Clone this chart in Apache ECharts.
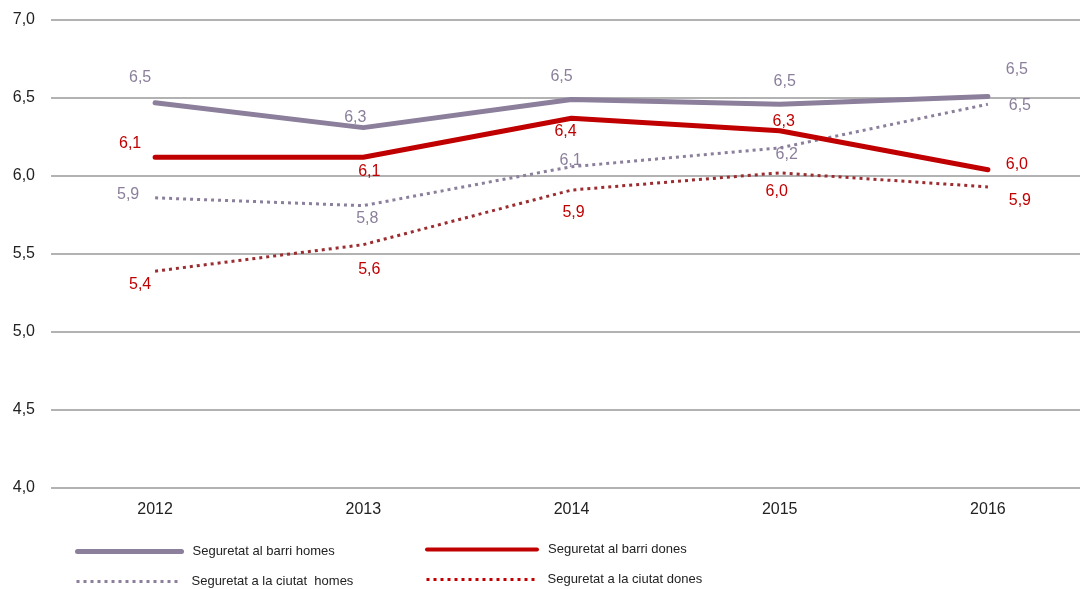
<!DOCTYPE html>
<html>
<head>
<meta charset="utf-8">
<script src="https://cdn.jsdelivr.net/npm/echarts@6/dist/echarts.min.js"></script>
<style>
  html, body { margin: 0; padding: 0; background: #fff; overflow: hidden; }
  /* a bit wider than the window: the last category band runs past the right edge */
  #chart { width: 1092px; height: 589px; }
</style>
</head>
<body>
<div id="chart"></div>
<script>
// categories
const years = ['2012', '2013', '2014', '2015', '2016']
const yTicks = [4.0, 4.5, 5.0, 5.5, 6.0, 6.5, 7.0]

// series values
const barriHomes = [6.47, 6.31, 6.49, 6.46, 6.51]
const barriDones = [6.12, 6.12, 6.37, 6.29, 6.04]
const ciutatHomes = [5.86, 5.81, 6.06, 6.18, 6.46]
const ciutatDones = [5.39, 5.56, 5.91, 6.02, 5.93]

// label offsets (x, y) relative to each point
const offBarriHomes = [[-15, -25], [-8, -10], [-10, -23], [5, -23], [29, -27]]
const offBarriDones = [[-25, -14], [6, 14], [-6, 13], [4, -9], [29, -5]]
const offCiutatHomes = [[-27, -3], [4, 13], [-1, -6], [7, 7], [32, 1]]
const offCiutatDones = [[-15, 13], [6, 25], [2, 23], [-3, 19], [32, 14]]

const GREY = '#8b7f9b'
const RED = '#c00000'
const DARKRED = '#9b2d30'

const fmt = v => v.toFixed(1).replace('.', ',')

// build data items with label offsets
const withLabels = (values, offsets) =>
  values.map((v, i) => ({ value: v, label: { offset: offsets[i] } }))

const makeSeries = (name, values, offsets, color, labelColor, width, dashed) => ({
  name: name,
  type: 'line',
  symbol: 'circle',
  symbolSize: 0,
  showSymbol: true,
  data: withLabels(values, offsets),
  itemStyle: { color: color },
  lineStyle: {
    color: color,
    width: width,
    type: dashed ? [3, 4] : 'solid',
    cap: dashed ? 'butt' : 'round',
    join: 'round'
  },
  label: {
    show: true,
    position: 'top',
    distance: 0,
    align: 'center',
    verticalAlign: 'middle',
    color: labelColor,
    fontSize: 16,
    fontFamily: 'Liberation Sans',
    formatter: p => fmt(p.value)
  },
  z: dashed ? 2 : 3
})

// one legend per entry so they can be placed on a 2x2 layout
const makeLegend = (name, left, top, width, lineWidth, color) => ({
  left: left,
  top: top,
  itemWidth: width,
  itemHeight: 12,
  itemStyle: { opacity: 0 },
  textStyle: {
    fontFamily: 'Liberation Sans',
    fontSize: 13,
    color: '#222',
    padding: [0, 0, 0, 6]
  },
  data: [{ name: name, lineStyle: color ? { width: lineWidth, color: color } : { width: lineWidth } }]
})

const chart = echarts.init(document.getElementById('chart'))

chart.setOption({
  animation: false,
  backgroundColor: '#fff',
  textStyle: { fontFamily: 'Liberation Sans' },
  grid: {
    left: 51,
    right: 0,
    top: 20,
    bottom: 101,
    containLabel: false
  },
  xAxis: {
    type: 'category',
    data: years,
    boundaryGap: true,
    axisLine: { show: false },
    axisTick: { show: false },
    axisLabel: {
      color: '#222',
      fontSize: 16,
      margin: 14,
      fontFamily: 'Liberation Sans'
    }
  },
  yAxis: {
    type: 'value',
    min: yTicks[0],
    max: yTicks[yTicks.length - 1],
    interval: 0.5,
    axisLine: { show: false },
    axisTick: { show: false },
    axisLabel: {
      color: '#222',
      fontSize: 16,
      margin: 16,
      fontFamily: 'Liberation Sans',
      formatter: v => fmt(v)
    },
    splitLine: {
      lineStyle: { color: '#999', width: 1.5 }
    }
  },
  legend: [
    makeLegend('Seguretat al barri homes', 70, 540, 104, 5),
    makeLegend('Seguretat a la ciutat  homes', 70, 570, 104, 3),
    makeLegend('Seguretat al barri dones', 420, 538, 110, 4),
    makeLegend('Seguretat a la ciutat dones', 420, 568, 110, 3, RED)
  ],
  series: [
    makeSeries('Seguretat a la ciutat  homes', ciutatHomes, offCiutatHomes, GREY, GREY, 3, true),
    makeSeries('Seguretat a la ciutat dones', ciutatDones, offCiutatDones, DARKRED, RED, 3, true),
    makeSeries('Seguretat al barri homes', barriHomes, offBarriHomes, GREY, GREY, 5, false),
    makeSeries('Seguretat al barri dones', barriDones, offBarriDones, RED, RED, 5, false)
  ]
})
</script>
</body>
</html>
